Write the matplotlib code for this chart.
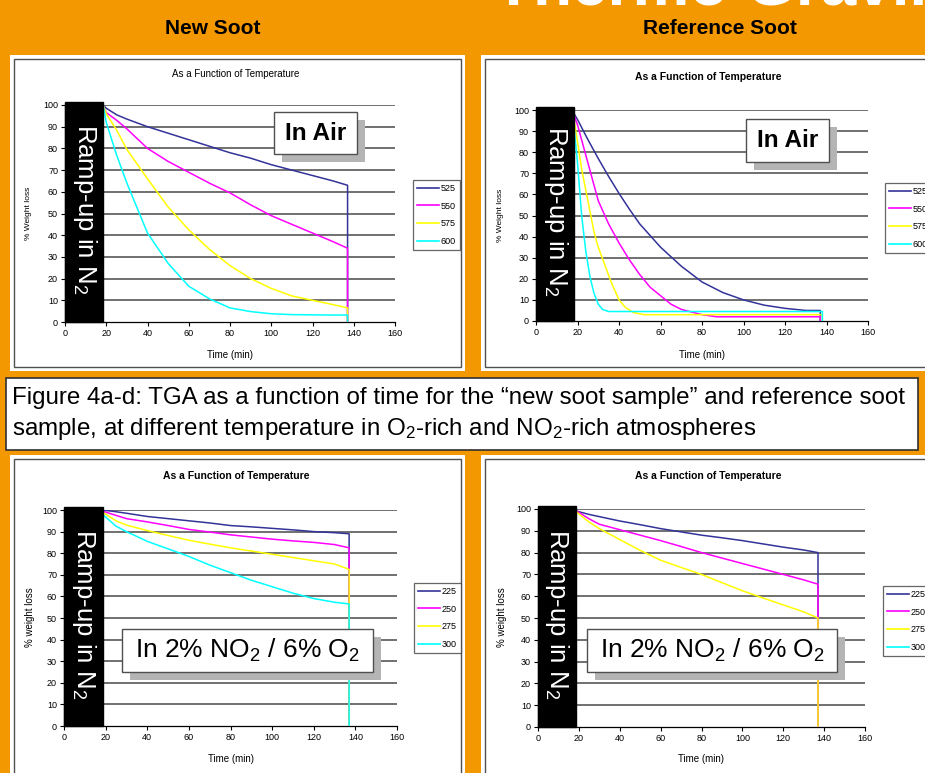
import matplotlib
matplotlib.use("Agg")
import matplotlib.pyplot as plt
from matplotlib.patches import Rectangle
from matplotlib.lines import Line2D

plt.rcParams['font.family'] = ['Liberation Sans', 'DejaVu Sans']
plt.rcParams['mathtext.fontset'] = 'custom'
plt.rcParams['mathtext.rm'] = 'Liberation Sans'
plt.rcParams['mathtext.it'] = 'Liberation Sans'

W, H = 925, 773
ORANGE = '#F39800'
COLORS = ['#333399', '#FF00FF', '#FFFF00', '#00FFFF']

# --- New soot, in air ---
t_new_air = [18.5, 20, 25, 30, 40, 50, 60, 70, 80, 90, 100, 110, 120, 130, 137]
new_525 = [100, 98.5, 95.5, 93.5, 90, 87, 84, 81, 78, 75.5, 72.5, 70, 67.5, 65, 63]
new_550 = [100, 96.5, 93, 89, 80, 74, 69, 64, 59.5, 54, 49, 45, 41, 37, 34]
new_575 = [100, 96, 88.5, 79.5, 66, 53, 42.5, 33.5, 26, 20, 15.5, 12, 10, 8, 6.5]
new_600 = [100, 92, 77, 64, 41, 27, 16.5, 10.7, 6.5, 4.8, 3.8, 3.4, 3.3, 3.2, 3.2]

# --- Reference soot, in air ---
t_ref_525 = [18.5, 20, 25, 30, 35, 40, 45, 50, 55, 60, 70, 80, 90, 100, 110, 120, 130, 137]
ref_525 = [98, 95.5, 86, 77, 68.5, 60.5, 53, 46, 40.5, 35, 26, 18.5, 13.5, 10, 7.5, 6, 5, 5]
t_ref_550 = [18.5, 20, 25, 30, 35, 40, 45, 50, 55, 60, 65, 70, 80, 87, 137]
ref_550 = [97, 93, 75, 57, 46, 37, 29, 22, 16, 12, 8, 5.5, 3, 2, 2]
t_ref_575 = [18.5, 20, 22, 25, 28, 30, 33, 36, 40, 43, 47, 52, 138]
ref_575 = [94, 85, 72, 57, 42, 35, 27, 19, 10, 6.5, 4, 3, 3]
t_ref_600 = [18.5, 20, 22, 24, 26, 28, 30, 32, 35, 138]
ref_600 = [90, 75, 50, 33, 21, 13, 8, 5.5, 4.5, 4.5]

# --- New soot, NO2 / O2 ---
t_new_no2 = [18.5, 25, 30, 40, 50, 60, 70, 80, 90, 100, 110, 120, 130, 137]
new_225 = [100, 99.2, 98.5, 97, 96, 95, 94, 92.8, 92.2, 91.5, 90.8, 90, 89.5, 89]
new_250 = [99.5, 97.5, 96, 94.5, 92.8, 91, 89.8, 88.5, 87.5, 86.5, 85.7, 85, 84, 82.5]
new_275 = [99, 95, 93, 90.5, 88.2, 86, 84.2, 82.5, 81, 79.5, 78, 76.5, 75, 72.5]
new_300 = [98, 92.5, 90, 85.5, 82, 78.5, 74.5, 71, 67.5, 64.5, 61.5, 59, 57.3, 56.5]

# --- Reference soot, NO2 / O2 ---
t_ref_no2 = [19, 25, 30, 40, 50, 60, 70, 80, 90, 100, 110, 120, 130, 137]
ref_225 = [99, 97.5, 96.5, 94.5, 92.8, 91, 89.5, 88, 86.8, 85.5, 84, 82.5, 81.2, 80]
ref_250 = [99, 95.5, 93, 90.5, 88, 85.5, 82.8, 80, 77.5, 75, 72.5, 70, 67.5, 65.5]
ref_275 = [98.5, 94, 91, 86, 81, 76.5, 73.2, 70, 66.2, 62.5, 59.2, 56, 52.8, 50]

air_labels = ['525', '550', '575', '600']
no2_labels = ['225', '250', '275', '300']


def fx(x):
    return x / W


def fy(y):
    return 1 - y / H


def fig_rect(fig, x0, y0, x1, y1, **kw):
    r = Rectangle((fx(x0), fy(y1)), fx(x1) - fx(x0), fy(y0) - fy(y1),
                  transform=fig.transFigure, **kw)
    fig.add_artist(r)
    return r


def make_axes(fig, x0, y0, x1, y1):
    return fig.add_axes([fx(x0), fy(y1), fx(x1) - fx(x0), fy(y0) - fy(y1)])


def style_axes(ax):
    ax.set_xlim(0, 160)
    ax.set_ylim(0, 100)
    ax.set_xticks(range(0, 161, 20))
    ax.set_yticks(range(0, 101, 10))
    ax.tick_params(labelsize=6.5, length=3, width=0.8, pad=2)
    for s in ['top', 'right']:
        ax.spines[s].set_visible(False)
    for s in ['left', 'bottom']:
        ax.spines[s].set_linewidth(0.9)
    for v in range(10, 101, 10):
        ax.axhline(v, color='#707070', lw=1.4, zorder=1)
    ax.patch.set_alpha(0)
    # black ramp-up block
    ax.add_patch(Rectangle((0, 0), 18.5, 101.5, color='black', zorder=5, clip_on=False))
    ax.text(9.5, 52, 'Ramp-up in N$_2$', rotation=270, color='white', fontsize=18.5,
            ha='center', va='center', zorder=6)


def series(ax, t, v, c, drop=True):
    t = list(t)
    v = list(v)
    if drop:
        t.append(t[-1])
        v.append(0)
    ax.plot(t, v, color=c, lw=1.1, zorder=3)


def legend(ax, fig, labels, x, y):
    handles = [Line2D([], [], color=c, lw=1.2) for c in COLORS]
    lg = ax.legend(handles, labels, loc='upper left', bbox_to_anchor=(fx(x), fy(y)),
                   bbox_transform=fig.transFigure, fontsize=6.5, frameon=True,
                   fancybox=False, edgecolor='#404040', borderpad=0.45,
                   labelspacing=0.95, handlelength=2.4, handletextpad=0.2,
                   borderaxespad=0)
    lg.get_frame().set_linewidth(0.9)


def label_box(fig, x0, y0, x1, y1, text, size, sh=(8, 8)):
    fig_rect(fig, x0 + sh[0], y0 + sh[1], x1 + sh[0], y1 + sh[1],
             facecolor='#B4B4B4', edgecolor='none', zorder=10)
    fig_rect(fig, x0, y0, x1, y1, facecolor='white', edgecolor='#505050',
             lw=1.0, zorder=11)
    fig.text(fx((x0 + x1) / 2), fy((y0 + y1) / 2), text, fontsize=size,
             fontweight='bold' if 'Air' in text else 'normal',
             ha='center', va='center', zorder=12)


fig = plt.figure(figsize=(W / 100, H / 100), dpi=100, facecolor=ORANGE)

# slide heading (runs off the top edge)
fig.text(fx(494), fy(5), 'Thermo Gravimetric Analysis', color='white',
         fontsize=46, fontweight='bold', ha='left', va='baseline')
fig.text(fx(213), fy(28), 'New Soot', fontsize=15, fontweight='bold',
         ha='center', va='center')
fig.text(fx(720), fy(29), 'Reference Soot', fontsize=15, fontweight='bold',
         ha='center', va='center')

# white chart panels
for (x0, y0, x1, y1) in [(10, 55, 465, 371), (481, 55, 940, 371),
                         (10, 455, 465, 790), (481, 455, 940, 790)]:
    fig_rect(fig, x0, y0, x1, y1, facecolor='white', edgecolor='none', zorder=0)
    fig_rect(fig, x0 + 4, y0 + 4, x1 - 4, y1 - 4, facecolor='white',
             edgecolor='#505050', lw=1.0, zorder=0)

# caption box
fig_rect(fig, 6, 378, 918, 450, facecolor='white', edgecolor='#303030', lw=1.2, zorder=1)
cap1 = 'Figure 4a-d: TGA as a function of time for the \u201cnew soot sample\u201d and reference soot'
cap2 = 'sample, at different temperature in O$_2$-rich and NO$_2$-rich atmospheres'
fig.text(fx(12), fy(398), cap1, fontsize=17.4, ha='left', va='center', zorder=2)
fig.text(fx(12), fy(429), cap2, fontsize=17.4, ha='left', va='center', zorder=2)

# --- top left ---
ax1 = make_axes(fig, 65, 105, 395, 322)
style_axes(ax1)
for v, c in zip([new_525, new_550, new_575, new_600], COLORS):
    series(ax1, t_new_air, v, c)
fig.text(fx(236), fy(74), 'As a Function of Temperature', fontsize=7, ha='center', va='center')
fig.text(fx(230), fy(355), 'Time (min)', fontsize=7, ha='center', va='center')
fig.text(fx(29), fy(213), '% Weight loss', fontsize=6, rotation=90, ha='center', va='center')
legend(ax1, fig, air_labels, 413, 180)
label_box(fig, 274, 112, 357, 154, 'In Air', 17.5)

# --- top right ---
ax2 = make_axes(fig, 536, 110, 868, 321)
style_axes(ax2)
series(ax2, t_ref_525, ref_525, COLORS[0])
series(ax2, t_ref_550, ref_550, COLORS[1])
series(ax2, t_ref_575, ref_575, COLORS[2])
series(ax2, t_ref_600, ref_600, COLORS[3])
fig.text(fx(708), fy(77), 'As a Function of Temperature', fontsize=7.5, fontweight='bold',
         ha='center', va='center')
fig.text(fx(702), fy(355), 'Time (min)', fontsize=7, ha='center', va='center')
fig.text(fx(500), fy(215), '% Weight loss', fontsize=6, rotation=90, ha='center', va='center')
legend(ax2, fig, air_labels, 885, 183)
label_box(fig, 746, 119, 829, 162, 'In Air', 17.5)

# --- bottom left ---
ax3 = make_axes(fig, 64, 510, 397, 726)
style_axes(ax3)
for v, c in zip([new_225, new_250, new_275, new_300], COLORS):
    series(ax3, t_new_no2, v, c)
fig.text(fx(236), fy(476), 'As a Function of Temperature', fontsize=7.5, fontweight='bold',
         ha='center', va='center')
fig.text(fx(231), fy(759), 'Time (min)', fontsize=7, ha='center', va='center')
fig.text(fx(30), fy(617), '% weight loss', fontsize=7, rotation=90, ha='center', va='center')
legend(ax3, fig, no2_labels, 414, 583)
label_box(fig, 122, 629, 373, 672, 'In 2% NO$_2$ / 6% O$_2$', 19)

# --- bottom right ---
ax4 = make_axes(fig, 538, 509, 865, 727)
style_axes(ax4)
for v, c in zip([ref_225, ref_250, ref_275], COLORS):
    series(ax4, t_ref_no2, v, c)
fig.text(fx(708), fy(476), 'As a Function of Temperature', fontsize=7.5, fontweight='bold',
         ha='center', va='center')
fig.text(fx(701), fy(759), 'Time (min)', fontsize=7, ha='center', va='center')
fig.text(fx(502), fy(617), '% weight loss', fontsize=7, rotation=90, ha='center', va='center')
legend(ax4, fig, no2_labels, 883, 586)
label_box(fig, 587, 629, 837, 672, 'In 2% NO$_2$ / 6% O$_2$', 19)

fig.savefig('out.png', dpi=100, facecolor=ORANGE)
